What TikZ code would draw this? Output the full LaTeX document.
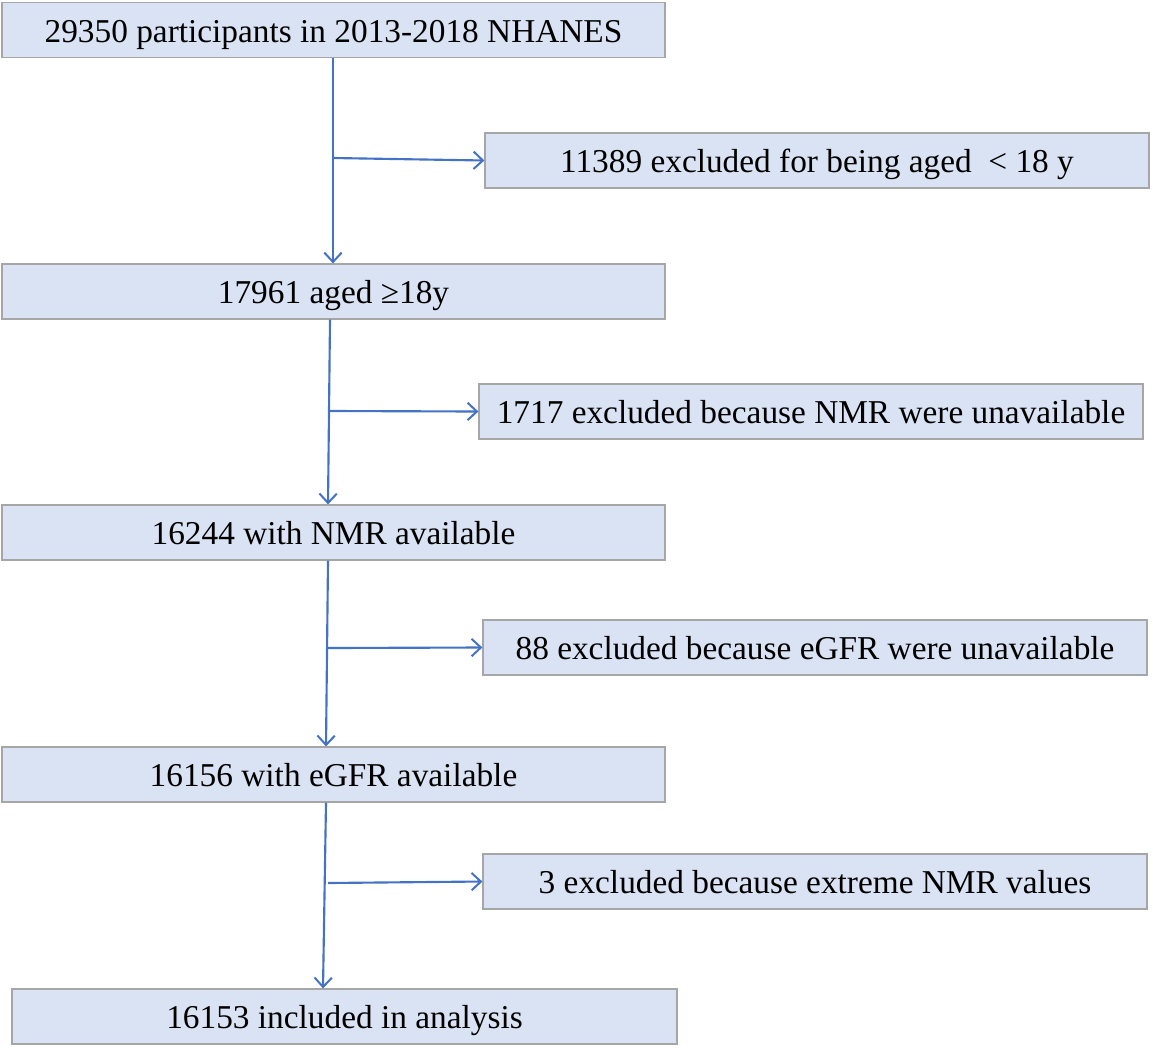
\documentclass[tikz,border=0pt]{standalone}
\usepackage{fontspec}
\setmainfont{Liberation Serif}
\usetikzlibrary{arrows.meta,calc}
\definecolor{boxfill}{HTML}{DAE3F3}
\definecolor{boxline}{HTML}{A6A6A6}
\definecolor{arrowblue}{HTML}{4472C4}
\tikzset{
  box/.style={draw=boxline, line width=0.9pt, fill=boxfill, minimum width=498pt, minimum height=41.25pt, inner sep=0pt, text height=18pt, text depth=0pt, font=\fontsize{25}{30}\selectfont},
  flow/.style={draw=arrowblue, line width=1.6pt, -{Straight Barb[length=7pt,width=13pt,line width=1.5pt]}}
}
\begin{document}
\begin{tikzpicture}[x=0.75pt,y=-0.75pt]
\useasboundingbox (0,0) rectangle (1153,1047);
\node[box, minimum width=497.25pt] (b1) at (333.5,30) {29350 participants in 2013-2018 NHANES};
\node[box] (b2) at (817,160.5) {11389 excluded for being aged\ \ < 18 y};
\node[box, minimum width=497.25pt] (b3) at (333.5,291.5) {17961 aged ≥18y};
\node[box] (b4) at (811,411.5) {1717 excluded because NMR were unavailable};
\node[box, minimum width=497.25pt] (b5) at (333.5,532.5) {16244 with NMR available};
\node[box] (b6) at (815,647.5) {88 excluded because eGFR were unavailable};
\node[box, minimum width=497.25pt] (b7) at (333.5,774.5) {16156 with eGFR available};
\node[box] (b8) at (815,881.5) {3 excluded because extreme NMR values};
\node[box, minimum width=498.75pt] (b9) at (344.5,1016.5) {16153 included in analysis};

\draw[flow] ($(b1.south)+(-0.5,0)$) -- ($(b3.north)+(-0.5,0)$);
\draw[flow] ($(b3.south)+(-3.5,0)$) -- ($(b5.north)+(-5.5,0)$);
\draw[flow] ($(b5.south)+(-5.5,0)$) -- ($(b7.north)+(-7.5,0)$);
\draw[flow] ($(b7.south)+(-7.5,0)$) -- ($(b9.north)+(-21.5,0)$);

\coordinate (j1) at (333,158);
\coordinate (j2) at (330,411);
\coordinate (j3) at (328,648);
\coordinate (j4) at (328,883);
\draw[flow] (j1) -- (b2.west);
\draw[flow] (j2) -- (b4.west);
\draw[flow] (j3) -- (b6.west);
\draw[flow] (j4) -- (b8.west);
\end{tikzpicture}
\end{document}
